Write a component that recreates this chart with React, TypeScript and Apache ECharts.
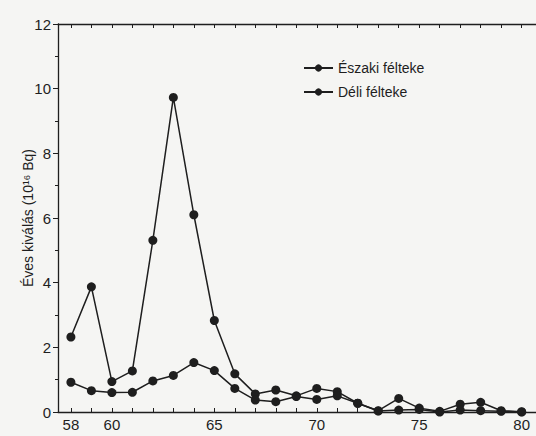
import React, { useEffect, useRef } from "react";
import * as echarts from "echarts";

const years = [58, 59, 60, 61, 62, 63, 64, 65, 66, 67, 68, 69, 70, 71, 72, 73, 74, 75, 76, 77, 78, 79, 80];
const northValues = [2.32, 3.87, 0.94, 1.27, 5.31, 9.73, 6.1, 2.83, 1.18, 0.56, 0.68, 0.5, 0.73, 0.63, 0.27, 0.04, 0.42, 0.12, 0.02, 0.24, 0.3, 0.04, 0.01];
const southValues = [0.92, 0.66, 0.6, 0.61, 0.96, 1.13, 1.53, 1.28, 0.73, 0.37, 0.32, 0.48, 0.39, 0.5, 0.27, 0.03, 0.06, 0.08, 0.0, 0.06, 0.04, 0.02, 0.0];
const xTickLabels = [58, 60, 65, 70, 75, 80];
const seriesNames = ["Északi félteke", "Déli félteke"];
const yAxisTitle = "Éves kiválás (10¹⁶ Bq)";

const INK = "#1e1e1e";
const FONT = "'Liberation Sans', 'DejaVu Sans', sans-serif";

export default function App() {
  const ref = useRef<HTMLDivElement>(null);
  useEffect(() => {
    if (!ref.current) return;
    const chart = echarts.init(ref.current, undefined, { renderer: "svg" });
    const mk = (name: string, vals: number[]) => ({
      name,
      type: "line",
      data: years.map((y, i) => [y, vals[i]]),
      symbol: "circle",
      symbolSize: 9,
      lineStyle: { color: INK, width: 1.5 },
      itemStyle: { color: INK },
      z: 3,
    });
    chart.setOption({
      animation: false,
      backgroundColor: "#f5f5f3",
      textStyle: { fontFamily: FONT },
      grid: { left: 58, top: 24, right: 0, bottom: 24, containLabel: false },
      legend: {
        orient: "vertical",
        left: 298,
        top: 56,
        itemWidth: 29,
        itemHeight: 9,
        itemGap: 10,
        textStyle: { color: INK, fontSize: 14, fontFamily: FONT },
        data: seriesNames,
      },
      xAxis: [
        {
          type: "value",
          position: "bottom",
          min: 57.37,
          max: 80.7,
          axisLine: { show: true, lineStyle: { color: INK, width: 1.3 } },
          axisTick: { show: true, inside: true, length: 4, customValues: years, lineStyle: { color: INK } },
          axisLabel: { customValues: xTickLabels, color: INK, fontSize: 15, margin: 5, fontFamily: FONT },
          splitLine: { show: false },
        },
        {
          type: "value",
          position: "top",
          min: 57.37,
          max: 80.7,
          axisLine: { show: true, lineStyle: { color: INK, width: 1.3 } },
          axisTick: { show: true, inside: true, length: 4, customValues: years, lineStyle: { color: INK } },
          axisLabel: { show: false },
          splitLine: { show: false },
        },
      ],
      yAxis: {
        type: "value",
        min: 0,
        max: 12,
        interval: 2,
        name: yAxisTitle,
        nameLocation: "middle",
        nameGap: 23,
        nameMoveOverlap: false,
        nameTextStyle: { color: INK, fontSize: 14, fontFamily: FONT },
        axisLine: { show: true, lineStyle: { color: INK, width: 1.3 } },
        axisTick: { show: true, inside: false, length: 5, lineStyle: { color: INK } },
        minorTick: { show: true, splitNumber: 2, length: 3, lineStyle: { color: INK } },
        axisLabel: { color: INK, fontSize: 15, margin: 7, fontFamily: FONT },
        splitLine: { show: false },
      },
      series: [mk(seriesNames[0], northValues), mk(seriesNames[1], southValues)],
    });
    return () => chart.dispose();
  }, []);
  return (
    <div
      ref={ref}
      style={{ position: "fixed", left: 0, top: 0, width: 536, height: 436 }}
    />
  );
}
